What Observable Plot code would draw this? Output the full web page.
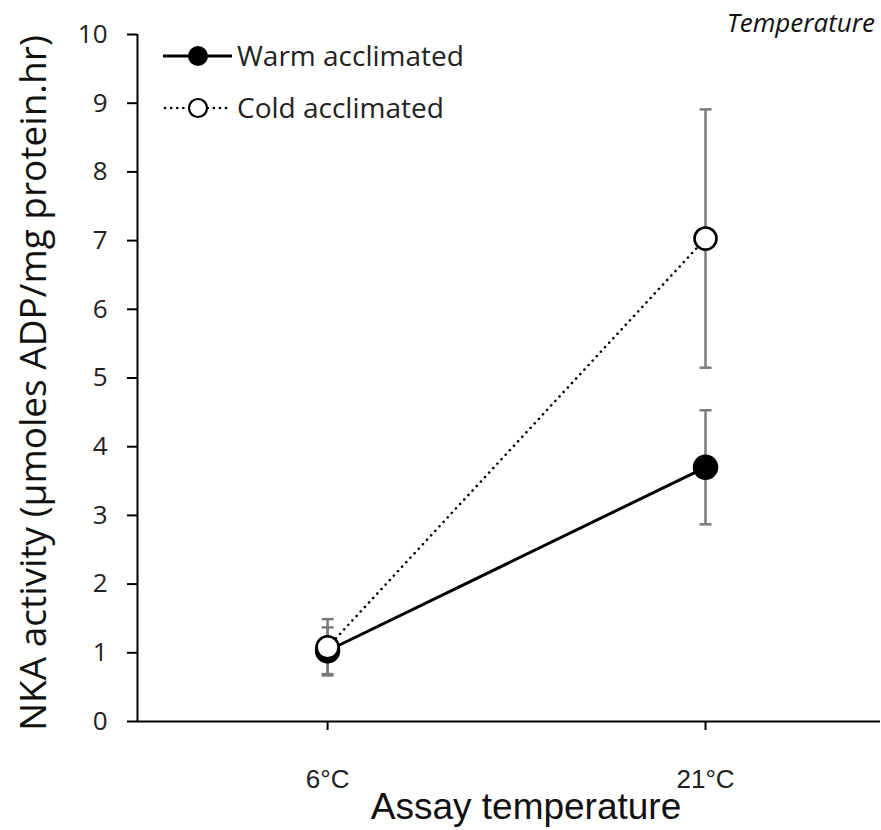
<!DOCTYPE html>
<html>
<head>
<meta charset="utf-8">
<script src="https://cdn.jsdelivr.net/npm/d3@7"></script>
<script src="https://cdn.jsdelivr.net/npm/@observablehq/plot@0.6"></script>
<style>
  html, body { margin: 0; padding: 0; background: #fff; }
  #chart { position: relative; width: 881px; height: 830px; }
  #note { position: absolute; right: 6px; top: 4px; font: italic 26px "Open Sans", sans-serif; color: #111; }
</style>
</head>
<body>
<div id="chart"><div id="note">Temperature</div></div>
<script>
// ---- data ----
const temps = ["6°C", "21°C"];
const warmMean = [1.03, 3.70];
const warmErr = [0.34, 0.83];
const coldMean = [1.08, 7.03];
const coldErr = [0.41, 1.88];
const yTicks = [0, 1, 2, 3, 4, 5, 6, 7, 8, 9, 10];
const seriesNames = ["Warm acclimated", "Cold acclimated"];

const warm = temps.map((t, i) => ({i, t, m: warmMean[i], e: warmErr[i]}));
const cold = temps.map((t, i) => ({i, t, m: coldMean[i], e: coldErr[i]}));
const xIdx = temps.map((t, i) => i);

const xDomain = [-0.503, 1.463];
const capSymbol = {draw(ctx) { ctx.moveTo(-6, 0); ctx.lineTo(6, 0); }};
const errColor = "#7a7a7a";

function errMarks(data) {
  return [
    Plot.ruleX(data, {x: "i", y1: d => d.m - d.e, y2: d => d.m + d.e, stroke: errColor, strokeWidth: 2.5}),
    Plot.dot(data, {x: "i", y: d => d.m + d.e, symbol: capSymbol, r: 6, stroke: errColor, strokeWidth: 2.5}),
    Plot.dot(data, {x: "i", y: d => d.m - d.e, symbol: capSymbol, r: 6, stroke: errColor, strokeWidth: 2.5})
  ];
}

const plot = Plot.plot({
  width: 881,
  height: 830,
  marginLeft: 137,
  marginRight: 1,
  marginTop: 34,
  marginBottom: 109,
  style: {fontFamily: "Open Sans, sans-serif", background: "#fff", color: "#000"},
  x: {type: "linear", domain: xDomain, label: null},
  y: {domain: [0, 10], label: null},
  marks: [
    Plot.axisY({ticks: yTicks, tickSize: 10, text: null, stroke: "#000", strokeWidth: 2, strokeOpacity: 1, label: null}),
    Plot.axisX({ticks: xIdx, tickSize: 9, text: null, stroke: "#000", strokeWidth: 2, strokeOpacity: 1, label: null}),
    Plot.text(yTicks, {x: xDomain[0], y: d => d, text: d => String(d), dx: -30, textAnchor: "end", fontSize: 26, fontFamily: "Open Sans, sans-serif", fill: "#222"}),
    Plot.text(xIdx, {x: d => d, y: 0, text: d => temps[d], dy: 58, fontSize: 26, fontFamily: "Liberation Sans Narrow, Arial Narrow, sans-serif", fill: "#222"}),
    Plot.ruleX([xDomain[0]], {stroke: "#000", strokeWidth: 2}),
    Plot.ruleY([0], {stroke: "#000", strokeWidth: 2}),
    ...errMarks(warm),
    ...errMarks(cold),
    Plot.line(warm, {x: "i", y: "m", stroke: "#000", strokeWidth: 3}),
    Plot.line(cold, {x: "i", y: "m", stroke: "#000", strokeWidth: 2.6, strokeDasharray: "0.1,6", strokeLinecap: "round"}),
    Plot.dot(warm, {x: "i", y: "m", r: 12, fill: "#000", stroke: "#000"}),
    Plot.dot(cold, {x: "i", y: "m", r: 11, fill: "#fff", stroke: "#000", strokeWidth: 2.6})
  ]
});

// axis titles and legend (non-data annotations)
const svg = d3.select(plot);
svg.append("text")
  .attr("x", 526).attr("y", 819)
  .attr("text-anchor", "middle")
  .style("font-family", "Liberation Sans Narrow, Arial Narrow, sans-serif")
  .style("font-size", "37px")
  .attr("fill", "#111")
  .text("Assay temperature");
svg.append("text")
  .attr("transform", "translate(46,383) rotate(-90)")
  .attr("text-anchor", "middle")
  .style("font-family", "Open Sans, sans-serif")
  .style("font-size", "37px")
  .attr("fill", "#111")
  .text("NKA activity (µmoles ADP/mg protein.hr)");

const leg = svg.append("g").attr("text-anchor", "start");
// warm
leg.append("line").attr("x1", 163).attr("x2", 232).attr("y1", 56).attr("y2", 56).attr("stroke", "#000").attr("stroke-width", 3);
leg.append("circle").attr("cx", 198).attr("cy", 56).attr("r", 10).attr("fill", "#000");
leg.append("text").attr("x", 237).attr("y", 56).attr("dy", "0.35em").attr("fill", "#222").style("font-family", "Open Sans, sans-serif").style("font-size", "28px").text(seriesNames[0]);
// cold
leg.append("line").attr("x1", 165).attr("x2", 232).attr("y1", 108).attr("y2", 108).attr("stroke", "#000").attr("stroke-width", 2.6).attr("stroke-dasharray", "0.1,6").attr("stroke-linecap", "round");
leg.append("circle").attr("cx", 198).attr("cy", 108).attr("r", 9).attr("fill", "#fff").attr("stroke", "#000").attr("stroke-width", 2.2);
leg.append("text").attr("x", 237).attr("y", 108).attr("dy", "0.35em").attr("fill", "#222").style("font-family", "Open Sans, sans-serif").style("font-size", "28px").text(seriesNames[1]);

document.getElementById("chart").prepend(plot);
</script>
</body>
</html>
